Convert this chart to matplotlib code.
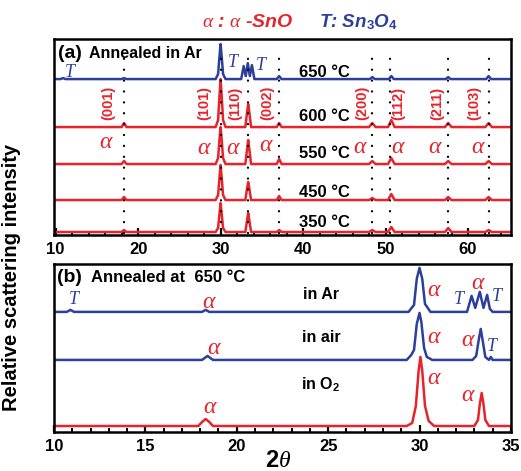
import matplotlib
matplotlib.use('Agg')
import matplotlib.pyplot as plt
from matplotlib.ticker import MultipleLocator

plt.rcParams['font.family'] = ['Liberation Sans', 'DejaVu Sans']
plt.rcParams['mathtext.fontset'] = 'custom'
plt.rcParams['mathtext.rm'] = 'Liberation Sans:bold'
plt.rcParams['mathtext.it'] = 'Liberation Serif:italic'
plt.rcParams['mathtext.bf'] = 'Liberation Sans:bold'

RED = '#e8232b'
BLUE = '#2c3f9c'

# ---- panel (a): annealed in Ar at different temperatures ----
# shared 2theta vertices for the red (alpha-SnO) traces
xa_red = [9.8, 18.0, 18.3, 18.6, 29.4, 29.7, 29.85, 30.0, 30.15, 30.3, 30.6,
          33.0, 33.2, 33.35, 33.5, 33.7, 36.8, 37.1, 37.4, 48.0, 48.4, 48.8,
          50.3, 50.7, 51.1, 57.2, 57.6, 58.0, 62.1, 62.5, 62.9, 65.2]
ya_600 = [0, 0, 4, 0, 0, 7, 29, 48, 29, 7, 0, 0, 14, 23, 14, 0, 0, 4, 0,
          0, 4, 0, 0, 7, 0, 0, 4, 0, 0, 4, 0, 0]
ya_550 = [0, 0, 3, 0, 0, 6, 23, 37, 23, 6, 0, 0, 14, 24, 14, 0, 0, 5, 0,
          0, 3, 0, 0, 6, 0, 0, 3, 0, 0, 3, 0, 0]
ya_450 = [0, 0, 3, 0, 0, 5, 21, 35, 21, 5, 0, 0, 11, 18, 11, 0, 0, 4, 0,
          0, 2, 0, 0, 6, 0, 0, 3, 0, 0, 3, 0, 0]
ya_350 = [0, 0, 2, 0, 0, 4, 17, 29, 17, 4, 0, 0, 11, 19, 11, 0, 0, 2, 0,
          0, 2, 0, 0, 5, 0, 0, 4, 0, 0, 2, 0, 0]

xa_650 = [9.8, 10.6, 10.9, 11.2, 18.0, 18.3, 18.6, 29.4, 29.7, 29.85, 30.0,
          30.15, 30.3, 30.6, 32.5, 32.8, 33.05, 33.3, 33.55, 33.8, 34.1,
          36.8, 37.1, 37.4, 48.1, 48.4, 48.7, 50.4, 50.7, 51.0, 57.3, 57.6,
          57.9, 62.2, 62.5, 62.8, 65.2]
ya_650 = [0, 0, 1, 0, 0, 1, 0, 0, 5, 21, 35, 21, 5, 0, 0, 13, 3, 16, 3, 14, 0,
          0, 3, 0, 0, 2, 0, 0, 3, 0, 0, 2, 0, 0, 3, 0, 0]

temps_a = ['650 °C', '600 °C', '550 °C', '450 °C', '350 °C']
offsets_a = [156, 108, 71, 35, 3]
temp_label_y = [163, 119, 82, 43, 13]

ref_lines = [18.3, 30.0, 33.35, 37.05, 48.4, 50.6, 57.6, 62.5]
hkl = ['(001)', '(101)', '(110)', '(002)', '(200)', '(112)', '(211)', '(103)']
hkl_x = [16.4, 28.0, 31.8, 35.6, 47.2, 51.5, 56.3, 60.8]
alpha_a_x = [16.2, 28.0, 31.5, 35.6, 46.9, 51.5, 56.0, 61.2]
alpha_a_y = [93, 87, 87, 90, 88, 88, 88, 88]
t_a_x = [11.8, 31.6, 35.0]
t_a_y = [163, 173, 170]

# ---- panel (b): annealed at 650 C in different atmospheres ----
xb_ar = [10, 10.7, 10.9, 11.1, 18.1, 18.3, 18.5, 29.4, 29.7, 29.85, 30.0,
         30.15, 30.3, 30.6, 32.6, 32.85, 33.05, 33.3, 33.5, 33.7, 33.85,
         34.0, 35]
yb_ar = [0, 0, 2, 0, 0, 2, 0, 0, 7, 33, 44, 33, 8, 0, 0, 16, 4, 20, 4, 17,
         3, 0, 0]
xb_air = [10, 18.1, 18.4, 18.7, 29.3, 29.55, 29.7, 29.85, 30.0, 30.1, 30.25,
          30.4, 30.7, 32.9, 33.1, 33.25, 33.35, 33.45, 33.6, 33.8, 33.9,
          34.0, 35]
yb_air = [0, 0, 4, 0, 0, 5, 10, 36, 47, 38, 12, 3, 0, 0, 4, 21, 31, 20, 3, 0,
          3, 0, 0]
xb_o2 = [10, 17.9, 18.1, 18.3, 18.5, 18.7, 29.3, 29.6, 29.8, 29.95, 30.05,
         30.15, 30.3, 30.5, 30.8, 33.0, 33.2, 33.3, 33.4, 33.5, 33.6, 33.8, 35]
yb_o2 = [0, 0, 4, 7, 4, 0, 0, 3, 20, 55, 69, 55, 20, 5, 0, 0, 6, 22, 33, 22,
         6, 0, 0]
offsets_b = [120, 72, 6]
atm_labels = ['in Ar', 'in air', 'in O$_2$']
atm_y = [137, 94, 47]
alpha_b_x = [18.5, 30.8, 33.2, 18.8, 30.8, 32.7, 18.55, 30.8, 32.7]
alpha_b_y = [130, 142, 149, 84, 95, 92, 25, 54, 37]
t_b_x = [11.1, 32.2, 34.25, 34.0]
t_b_y = [132, 132, 135, 85]

fig = plt.figure(figsize=(5.21, 4.71), dpi=100)
ax1 = fig.add_axes([0.1036, 0.501, 0.877, 0.416])
ax2 = fig.add_axes([0.1036, 0.0828, 0.877, 0.357])

# panel (a)
traces_a = [(xa_650, ya_650, BLUE), (xa_red, ya_600, RED), (xa_red, ya_550, RED),
            (xa_red, ya_450, RED), (xa_red, ya_350, RED)]
for (xs, ys, c), off in zip(traces_a, offsets_a):
    ax1.plot(xs, [y + off for y in ys], color=c, lw=1.8, zorder=2)
for x in ref_lines:
    ax1.plot([x, x], [2, 186], color='black', lw=1.7, ls=(0, (0.01, 4.6)),
             dash_capstyle='round', zorder=3)
for lab, x in zip(hkl, hkl_x):
    ax1.text(x, 132, lab, color=RED, rotation=90, ha='center', va='center',
             fontsize=10.5, fontweight='bold')
for x, y in zip(alpha_a_x, alpha_a_y):
    ax1.text(x, y, r'$\alpha$', color=RED, ha='center', va='center', fontsize=17)
for x, y in zip(t_a_x, t_a_y):
    ax1.text(x, y, r'$T$', color=BLUE, ha='center', va='center', fontsize=13)
for lab, y in zip(temps_a, temp_label_y):
    ax1.text(39.5, y, lab, ha='left', va='center', fontsize=12, fontweight='bold')
ax1.text(10.3, 182, '(a)', fontsize=14, fontweight='bold', va='center')
ax1.text(14.0, 182, 'Annealed in Ar', fontsize=11.5, fontweight='bold', va='center')
ax1.set_xlim(9.8, 65.2)
ax1.set_ylim(0, 196)
ax1.xaxis.set_major_locator(MultipleLocator(10))
ax1.xaxis.set_minor_locator(MultipleLocator(2))

# panel (b)
traces_b = [(xb_ar, yb_ar, BLUE), (xb_air, yb_air, BLUE), (xb_o2, yb_o2, RED)]
for (xs, ys, c), off in zip(traces_b, offsets_b):
    ax2.plot(xs, [y + off for y in ys], color=c, lw=1.8)
for lab, y in zip(atm_labels, atm_y):
    ax2.text(24.6, y, lab, ha='center', va='center', fontsize=11.5, fontweight='bold')
for x, y in zip(alpha_b_x, alpha_b_y):
    ax2.text(x, y, r'$\alpha$', color=RED, ha='center', va='center', fontsize=17)
for x, y in zip(t_b_x, t_b_y):
    ax2.text(x, y, r'$T$', color=BLUE, ha='center', va='center', fontsize=13)
ax2.text(10.15, 154, '(b)', fontsize=14, fontweight='bold', va='center')
ax2.text(12.0, 154, 'Annealed at  650 °C', fontsize=12, fontweight='bold', va='center')
ax2.set_xlim(10, 35)
ax2.set_ylim(0, 168)
ax2.xaxis.set_major_locator(MultipleLocator(5))
ax2.xaxis.set_minor_locator(MultipleLocator(1))

for ax in (ax1, ax2):
    ax.set_yticks([])
    for s in ax.spines.values():
        s.set_linewidth(1.8)
    ax.tick_params(axis='x', which='major', direction='in', length=5, width=1.6,
                   labelsize=12, pad=5)
    ax.tick_params(axis='x', which='minor', direction='in', length=3, width=1.4)
    for t in ax.get_xticklabels():
        t.set_fontweight('bold')

fig.text(0.023, 0.41, 'Relative scattering intensity', rotation=90, ha='center',
         va='center', fontsize=14.5, fontweight='bold')
fig.text(0.534, 0.022, r'$\mathbf{2}\theta$', ha='center', va='center', fontsize=17)
fig.text(0.475, 0.953, r'$\alpha$ : $\alpha$ -SnO', color=RED, ha='center',
         va='center', fontsize=14, fontweight='bold', fontstyle='italic')
fig.text(0.688, 0.953, 'T: Sn$_\\mathbf{3}$O$_\\mathbf{4}$', color=BLUE, ha='center',
         va='center', fontsize=13.5, fontweight='bold', fontstyle='italic')

fig.savefig('out.png', dpi=100)
